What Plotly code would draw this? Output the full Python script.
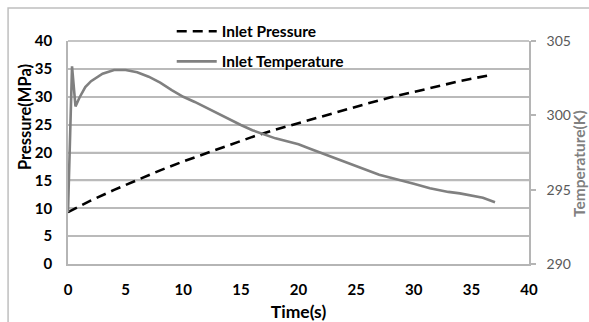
import plotly.graph_objects as go

# Inlet pressure history (MPa)
time_p = [0, 2, 4, 6, 8, 10, 12, 14, 16, 18, 20, 22, 24, 26, 28, 30, 32, 34, 36.4]
pressure = [9.3, 11.4, 13.3, 15.1, 16.8, 18.4, 19.9, 21.3, 22.8, 24.1, 25.3,
            26.5, 27.7, 28.8, 29.9, 30.9, 31.9, 32.8, 33.8]

# Inlet temperature history (K)
time_t = [0, 0.35, 0.65, 1, 1.5, 2, 3, 4, 5, 6, 7, 8, 9, 10, 11, 12, 13, 14, 15,
          16, 17, 18, 19, 20, 21, 22, 22.7, 23.6, 25, 26, 27, 28, 28.8, 30, 31.4,
          33, 34, 35.2, 36, 37.05]
temperature = [293.5, 303.3, 300.6, 301.2, 301.9, 302.3, 302.8, 303.05, 303.05,
               302.9, 302.6, 302.2, 301.7, 301.25, 300.9, 300.5, 300.1, 299.72,
               299.35, 299.0, 298.7, 298.45, 298.25, 298.05, 297.75, 297.45,
               297.25, 297.0, 296.6, 296.3, 296.0, 295.8, 295.65, 295.4, 295.1,
               294.85, 294.75, 294.6, 294.45, 294.15]

x_ticks = [0, 5, 10, 15, 20, 25, 30, 35, 40]
p_ticks = [0, 5, 10, 15, 20, 25, 30, 35, 40]
t_ticks = [290, 295, 300, 305]

FONT = "Lato"
GRID = "#bababa"
AXIS = "#b5b5b5"

fig = go.Figure()
fig.add_trace(go.Scatter(
    x=time_p, y=pressure, mode="lines", name="<b>Inlet Pressure</b>",
    line=dict(color="black", width=2.6, dash="10px,6px"),
    legendgroup="p",
))
fig.add_trace(go.Scatter(
    x=time_t, y=temperature, mode="lines", name="<b>Inlet Temperature</b>",
    line=dict(color="#808080", width=2.6),
    yaxis="y2", legendgroup="t",
))

# horizontal grid at every pressure tick, placed through the left axis
grid_shapes = [
    dict(type="line", xref="paper", yref="y", x0=0, x1=1, y0=v, y1=v,
         layer="between", line=dict(color=GRID, width=1.5))
    for v in p_ticks[1:-1]
]

fig.update_layout(
    template="none",
    width=589, height=322,
    margin=dict(l=68, r=60, t=41, b=58, autoexpand=False),
    paper_bgcolor="white", plot_bgcolor="white",
    font=dict(family=FONT, size=13, color="black"),
    showlegend=True,
    legend=dict(
        x=0.225, y=1.118, xanchor="left", yanchor="top",
        bgcolor="rgba(0,0,0,0)", traceorder="grouped", tracegroupgap=7,
        font=dict(family=FONT, size=15.5, color="black"),
        itemwidth=40,
    ),
    xaxis=dict(
        range=[0, 40], tickmode="array", tickvals=x_ticks, showgrid=False,
        automargin=False,
        zeroline=False, showline=True, linecolor=AXIS, linewidth=1.5,
        ticks="", tickfont=dict(family=FONT, size=15, color="black", weight="bold"),
        ticklabelstandoff=11,
        title=dict(text="<b>Time(s)</b>", font=dict(family=FONT, size=17.5), standoff=9),
    ),
    yaxis=dict(
        range=[0, 40], tickmode="array", tickvals=p_ticks,
        showgrid=True, gridcolor=GRID, gridwidth=1.5,
        automargin=False,
        zeroline=False, showline=True, linecolor=AXIS, linewidth=1.5,
        ticks="outside", ticklen=11, tickcolor="rgba(255,255,255,0)",
        tickfont=dict(family=FONT, size=15, color="black", weight="bold"),
    ),
    yaxis2=dict(
        range=[290, 305], tickmode="array", tickvals=t_ticks,
        overlaying="y", side="right", automargin=False,
        showgrid=False, zeroline=False, showline=True, linecolor=AXIS,
        linewidth=1.5,
        ticks="outside", ticklen=5, tickcolor=AXIS, tickwidth=1.5,
        tickfont=dict(family=FONT, size=14, color="#595959"),
        ticklabelstandoff=8,
    ),
    shapes=[
        # outer chart frame
        dict(type="rect", xref="paper", yref="paper",
             x0=-0.130, x1=1.25, y0=-0.4, y1=1.148,
             fillcolor="rgba(0,0,0,0)", layer="below",
             line=dict(color="#bfbfbf", width=1.5)),
        # top edge of the plot area
        dict(type="line", xref="paper", yref="paper", x0=0, x1=1, y0=1, y1=1,
             line=dict(color="#8c8c8c", width=1.2)),
    ] + grid_shapes,
    annotations=[
        dict(text="<b>Pressure(MPa)</b>", xref="paper", yref="paper",
             x=(25 - 68) / 461, y=(264 - 117) / 223, textangle=-90,
             xanchor="center", yanchor="middle",
             showarrow=False, font=dict(family=FONT, size=16.5, color="black")),
        dict(text="<b>Temperature(K)</b>", xref="paper", yref="paper",
             x=(579 - 68) / 461, y=(264 - 164) / 223, textangle=-90,
             xanchor="center", yanchor="middle",
             showarrow=False, font=dict(family=FONT, size=15.5, color="#808080")),
    ],
)

fig.write_html("out.html")
